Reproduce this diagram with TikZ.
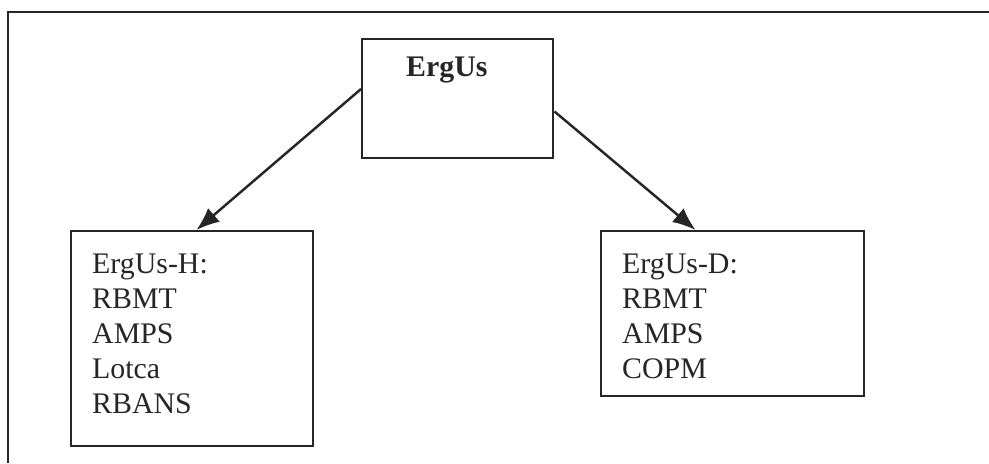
\documentclass[tikz,border=0pt]{standalone}
\usepackage{fontspec}
\setmainfont{Liberation Serif}
\usetikzlibrary{arrows.meta,calc}
\definecolor{ink}{HTML}{262626}

\begin{document}
\begin{tikzpicture}[>={Latex[length=0.46cm,width=0.36cm]},draw=ink,text=ink,
  line width=1.4pt,
  box/.style={draw,anchor=north west,inner ysep=0pt,inner xsep=0.42cm,
    align=left,text height=0.84cm,font=\fontsize{17}{19.9}\selectfont},
  link/.style={->,line width=1.4pt}]
  \useasboundingbox (0,0) rectangle (19.78,-9.26);
  % frame, cut off at the right and at the bottom
  \draw (0.16,-9.26)--(0.16,-0.24)--(19.78,-0.24);

  \node[box,inner xsep=0.88cm,text width=2.06cm,text height=0.74cm,
    text depth=1.64cm,font=\fontsize{17}{19.9}\selectfont\bfseries]
    (ergus) at (7.22,-0.76) {ErgUs};

  \node[box,text width=4.00cm,text depth=3.46cm] (hbox) at (1.40,-4.60)
    {ErgUs-H:\\RBMT\\AMPS\\Lotca\\RBANS};
  \node[box,text width=4.42cm,text depth=2.46cm] (dbox) at (12.00,-4.60)
    {ErgUs-D:\\RBMT\\AMPS\\COPM};

  \draw[link] ($(ergus.north west)!0.42!(ergus.south west)$)
    -- ($(hbox.north west)!0.517!(hbox.north east)$);
  \draw[link] ($(ergus.north east)!0.605!(ergus.south east)$)
    -- ($(dbox.north west)!0.36!(dbox.north east)$);
\end{tikzpicture}
\end{document}
